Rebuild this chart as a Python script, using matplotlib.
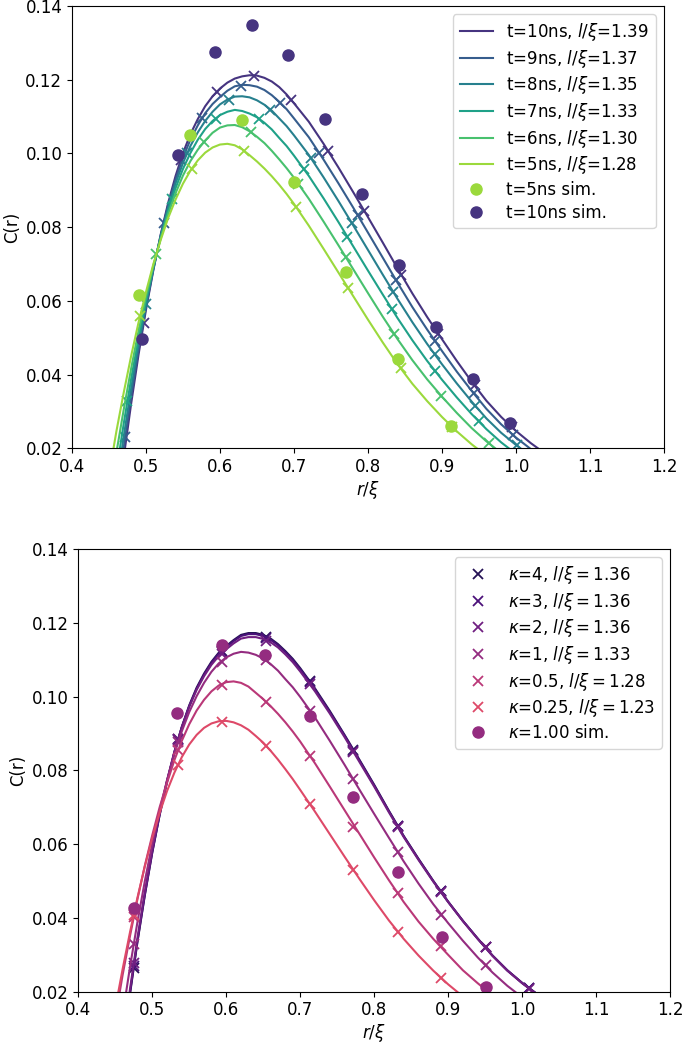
import numpy as np
import matplotlib
matplotlib.use("Agg")
import matplotlib.pyplot as plt

# ---------------- shared r/xi grid for fitted curves ----------------
r_grid = [0.45, 0.46, 0.47, 0.48, 0.49, 0.50, 0.51, 0.52, 0.53, 0.54, 0.55, 0.56,
          0.57, 0.58, 0.59, 0.60, 0.61, 0.62, 0.63, 0.64, 0.65, 0.66, 0.67, 0.68, 0.69, 0.70,
          0.72, 0.74, 0.76, 0.78, 0.80, 0.82, 0.84, 0.86, 0.88, 0.90, 0.92, 0.94, 0.96, 0.98,
          1.00, 1.02, 1.04, 1.06]

# ---------------- top panel: time series ----------------
time_labels = ["t=10ns, $l/\\xi$=1.39", "t=9ns, $l/\\xi$=1.37", "t=8ns, $l/\\xi$=1.35",
               "t=7ns, $l/\\xi$=1.33", "t=6ns, $l/\\xi$=1.30", "t=5ns, $l/\\xi$=1.28"]

fit_t10 = [-0.0140, 0.0022, 0.0177, 0.0322, 0.0455, 0.0576, 0.0684, 0.0781, 0.0866, 0.0939, 0.1001, 0.1052,
           0.1093, 0.1128, 0.1155, 0.1176, 0.1192, 0.1203, 0.1209, 0.1212, 0.1211, 0.1205, 0.1195, 0.1180, 0.1160, 0.1136,
           0.1086, 0.1026, 0.0962, 0.0895, 0.0827, 0.0758, 0.0688, 0.0620, 0.0556, 0.0496, 0.0437, 0.0381, 0.0329, 0.0285,
           0.0247, 0.0214, 0.0185, 0.0160]
fit_t9 = [-0.0100, 0.0056, 0.0203, 0.0341, 0.0468, 0.0583, 0.0686, 0.0779, 0.0860, 0.0929, 0.0989, 0.1037,
          0.1076, 0.1109, 0.1134, 0.1153, 0.1170, 0.1182, 0.1186, 0.1185, 0.1181, 0.1172, 0.1158, 0.1140, 0.1120, 0.1095,
          0.1044, 0.0983, 0.0919, 0.0853, 0.0785, 0.0717, 0.0649, 0.0583, 0.0522, 0.0464, 0.0408, 0.0356, 0.0307, 0.0265,
          0.0229, 0.0198, 0.0170, 0.0146]
fit_t8 = [-0.0054, 0.0094, 0.0233, 0.0363, 0.0483, 0.0591, 0.0689, 0.0776, 0.0853, 0.0919, 0.0974, 0.1020,
          0.1057, 0.1088, 0.1113, 0.1133, 0.1146, 0.1154, 0.1155, 0.1152, 0.1144, 0.1132, 0.1116, 0.1095, 0.1074, 0.1049,
          0.0996, 0.0935, 0.0871, 0.0805, 0.0738, 0.0671, 0.0605, 0.0542, 0.0483, 0.0428, 0.0376, 0.0327, 0.0281, 0.0242,
          0.0209, 0.0179, 0.0153, 0.0130]
fit_t7 = [-0.0001, 0.0138, 0.0268, 0.0389, 0.0500, 0.0601, 0.0692, 0.0773, 0.0845, 0.0906, 0.0958, 0.1001,
          0.1037, 0.1066, 0.1088, 0.1104, 0.1113, 0.1118, 0.1115, 0.1108, 0.1098, 0.1083, 0.1065, 0.1042, 0.1020, 0.0994,
          0.0939, 0.0878, 0.0814, 0.0748, 0.0682, 0.0617, 0.0553, 0.0493, 0.0437, 0.0386, 0.0338, 0.0293, 0.0252, 0.0216,
          0.0185, 0.0157, 0.0133, 0.0112]
fit_t6 = [0.0058, 0.0188, 0.0306, 0.0417, 0.0519, 0.0612, 0.0696, 0.0770, 0.0836, 0.0892, 0.0940, 0.0979,
          0.1010, 0.1035, 0.1056, 0.1070, 0.1076, 0.1077, 0.1071, 0.1060, 0.1045, 0.1028, 0.1007, 0.0984, 0.0960, 0.0934,
          0.0877, 0.0815, 0.0751, 0.0686, 0.0621, 0.0557, 0.0496, 0.0439, 0.0387, 0.0340, 0.0296, 0.0255, 0.0219, 0.0187,
          0.0158, 0.0133, 0.0111, 0.0091]
fit_t5 = [0.0128, 0.0246, 0.0352, 0.0451, 0.0542, 0.0624, 0.0700, 0.0766, 0.0825, 0.0875, 0.0918, 0.0953,
          0.0981, 0.1002, 0.1016, 0.1024, 0.1026, 0.1022, 0.1011, 0.0995, 0.0978, 0.0959, 0.0938, 0.0915, 0.0890, 0.0863,
          0.0804, 0.0741, 0.0677, 0.0613, 0.0549, 0.0487, 0.0428, 0.0375, 0.0328, 0.0285, 0.0246, 0.0211, 0.0180, 0.0152,
          0.0127, 0.0105, 0.0085, 0.0067]

# sampled points (crosses) on each time curve
cross_x_t10 = [0.497, 0.547, 0.596, 0.646, 0.696, 0.746, 0.795, 0.845, 0.895, 0.944, 0.994]
cross_y_t10 = [0.0540, 0.0982, 0.1166, 0.1210, 0.1145, 0.1007, 0.0844, 0.0671, 0.0511, 0.0371, 0.0257]
cross_x_t9 = [0.472, 0.524, 0.576, 0.629, 0.681, 0.734, 0.786, 0.838, 0.891, 0.943, 0.996]
cross_y_t9 = [0.0231, 0.0811, 0.1095, 0.1183, 0.1138, 0.1001, 0.0833, 0.0656, 0.0490, 0.0349, 0.0236]
cross_x_t8 = [0.500, 0.556, 0.612, 0.667, 0.723, 0.778, 0.834, 0.890, 0.945, 1.001]
cross_y_t8 = [0.0591, 0.1002, 0.1146, 0.1119, 0.0987, 0.0812, 0.0625, 0.0456, 0.0315, 0.0208]
cross_x_t7 = [0.475, 0.535, 0.594, 0.653, 0.713, 0.772, 0.832, 0.891, 0.950]
cross_y_t7 = [0.0329, 0.0876, 0.1093, 0.1092, 0.0958, 0.0774, 0.0579, 0.0409, 0.0273]
cross_x_t6 = [0.514, 0.578, 0.642, 0.706, 0.770, 0.835, 0.899, 0.963]
cross_y_t6 = [0.0726, 0.1032, 0.1058, 0.0917, 0.0719, 0.0511, 0.0342, 0.0214]
cross_x_t5 = [0.492, 0.562, 0.633, 0.703, 0.773, 0.844, 0.914]
cross_y_t5 = [0.0558, 0.0959, 0.1006, 0.0854, 0.0635, 0.0417, 0.0258]

# simulation points
sim_x_t5 = [0.490, 0.5595, 0.630, 0.7004, 0.7707, 0.841, 0.9117]
sim_y_t5 = [0.0616, 0.1051, 0.1091, 0.0922, 0.0678, 0.0442, 0.0260]
sim_x_t10 = [0.494, 0.5437, 0.5932, 0.6428, 0.6923, 0.7423, 0.7923, 0.8423, 0.8919, 0.9414, 0.992]
sim_y_t10 = [0.0497, 0.0996, 0.1274, 0.1349, 0.1267, 0.1094, 0.0891, 0.0697, 0.0530, 0.0387, 0.0269]

# ---------------- bottom panel: kappa series ----------------
kappa_labels = ["$\\kappa$=4, $l/\\xi = 1.36$", "$\\kappa$=3, $l/\\xi = 1.36$",
                "$\\kappa$=2, $l/\\xi = 1.36$", "$\\kappa$=1, $l/\\xi = 1.33$",
                "$\\kappa$=0.5, $l/\\xi = 1.28$", "$\\kappa$=0.25, $l/\\xi = 1.23$"]

fit_k4 = [-0.0110, 0.0045, 0.0195, 0.0335, 0.0462, 0.0577, 0.0679, 0.0770, 0.0850, 0.0918, 0.0976, 0.1024,
          0.1062, 0.1094, 0.1119, 0.1137, 0.1153, 0.1167, 0.1172, 0.1172, 0.1167, 0.1157, 0.1142, 0.1123, 0.1102, 0.1077,
          0.1022, 0.0961, 0.0896, 0.0829, 0.0761, 0.0690, 0.0622, 0.0560, 0.0500, 0.0444, 0.0392, 0.0344, 0.0298, 0.0258,
          0.0224, 0.0194, 0.0167, 0.0143]
fit_k3 = [-0.0105, 0.0050, 0.0199, 0.0338, 0.0464, 0.0578, 0.0680, 0.0770, 0.0849, 0.0917, 0.0974, 0.1021,
          0.1059, 0.1091, 0.1116, 0.1134, 0.1150, 0.1164, 0.1169, 0.1169, 0.1164, 0.1154, 0.1139, 0.1120, 0.1099, 0.1074,
          0.1019, 0.0958, 0.0894, 0.0827, 0.0759, 0.0689, 0.0621, 0.0559, 0.0500, 0.0444, 0.0392, 0.0344, 0.0298, 0.0258,
          0.0224, 0.0194, 0.0167, 0.0143]
fit_k2 = [-0.0095, 0.0060, 0.0208, 0.0346, 0.0471, 0.0584, 0.0684, 0.0773, 0.0851, 0.0917, 0.0972, 0.1018,
          0.1055, 0.1086, 0.1110, 0.1128, 0.1144, 0.1157, 0.1161, 0.1161, 0.1156, 0.1147, 0.1133, 0.1114, 0.1093, 0.1068,
          0.1014, 0.0954, 0.0890, 0.0823, 0.0756, 0.0686, 0.0619, 0.0557, 0.0498, 0.0443, 0.0391, 0.0343, 0.0297, 0.0257,
          0.0223, 0.0193, 0.0166, 0.0142]
fit_k1 = [-0.0001, 0.0138, 0.0268, 0.0389, 0.0500, 0.0601, 0.0692, 0.0773, 0.0845, 0.0906, 0.0958, 0.1001,
          0.1037, 0.1067, 0.1090, 0.1106, 0.1116, 0.1121, 0.1119, 0.1113, 0.1103, 0.1088, 0.1070, 0.1047, 0.1025, 0.0999,
          0.0943, 0.0880, 0.0815, 0.0748, 0.0682, 0.0617, 0.0553, 0.0493, 0.0437, 0.0386, 0.0338, 0.0293, 0.0252, 0.0216,
          0.0185, 0.0157, 0.0133, 0.0112]
fit_k05 = [0.0128, 0.0246, 0.0352, 0.0451, 0.0542, 0.0624, 0.0700, 0.0766, 0.0828, 0.0880, 0.0925, 0.0962,
           0.0991, 0.1014, 0.1030, 0.1039, 0.1041, 0.1037, 0.1027, 0.1010, 0.0993, 0.0974, 0.0953, 0.0930, 0.0905, 0.0878,
           0.0819, 0.0756, 0.0692, 0.0628, 0.0564, 0.0502, 0.0443, 0.0390, 0.0343, 0.0300, 0.0258, 0.0223, 0.0190, 0.0162,
           0.0137, 0.0115, 0.0095, 0.0077]
fit_k025 = [0.0155, 0.0262, 0.0362, 0.0455, 0.0540, 0.0617, 0.0685, 0.0744, 0.0794, 0.0836, 0.0870, 0.0896,
            0.0915, 0.0927, 0.0933, 0.0934, 0.0930, 0.0922, 0.0910, 0.0893, 0.0875, 0.0853, 0.0829, 0.0803, 0.0776, 0.0747,
            0.0688, 0.0627, 0.0566, 0.0506, 0.0448, 0.0393, 0.0343, 0.0298, 0.0257, 0.0220, 0.0187, 0.0158, 0.0132, 0.0110,
            0.0090, 0.0072, 0.0056, 0.0042]

kappa_x = [0.475, 0.535, 0.594, 0.654, 0.713, 0.772, 0.832, 0.891, 0.951, 1.010]
cross_k4 = [0.0265, 0.0884, 0.1124, 0.1161, 0.1041, 0.0856, 0.0649, 0.0472, 0.0321, 0.0209]
cross_k3 = [0.0269, 0.0883, 0.1121, 0.1158, 0.1038, 0.0853, 0.0648, 0.0472, 0.0321, 0.0209]
cross_k2 = [0.0277, 0.0884, 0.1115, 0.1151, 0.1033, 0.0850, 0.0645, 0.0471, 0.0320, 0.0208]
cross_k1 = [0.0329, 0.0876, 0.1094, 0.1098, 0.0962, 0.0776, 0.0578, 0.0409, 0.0271, 0.0171]
cross_k05 = [0.0402, 0.0854, 0.1032, 0.0986, 0.0840, 0.0647, 0.0467, 0.0324, 0.0206, 0.0126]
cross_k025 = [0.0409, 0.0815, 0.0932, 0.0866, 0.0708, 0.0530, 0.0363, 0.0238, 0.0145, 0.0081]

sim_x_k1 = [0.475, 0.534, 0.594, 0.653, 0.713, 0.772, 0.832, 0.892, 0.951]
sim_y_k1 = [0.0428, 0.0956, 0.1140, 0.1112, 0.0947, 0.0727, 0.0524, 0.0347, 0.0214]

x_ticks = [0.4, 0.5, 0.6, 0.7, 0.8, 0.9, 1.0, 1.1, 1.2]
y_ticks = [0.02, 0.04, 0.06, 0.08, 0.10, 0.12, 0.14]

# ---------------- figure ----------------
fig = plt.figure(figsize=(6.85, 10.43), dpi=100)
ax1 = fig.add_axes([0.1051, 0.5702, 0.8642, 0.4241])
ax2 = fig.add_axes([0.1143, 0.0492, 0.8638, 0.4245])

vcols = plt.cm.viridis(np.linspace(0.15, 0.85, 6))
fits_t = [fit_t10, fit_t9, fit_t8, fit_t7, fit_t6, fit_t5]
cx_t = [cross_x_t10, cross_x_t9, cross_x_t8, cross_x_t7, cross_x_t6, cross_x_t5]
cy_t = [cross_y_t10, cross_y_t9, cross_y_t8, cross_y_t7, cross_y_t6, cross_y_t5]
for fit, cx, cy, col, lab in zip(fits_t, cx_t, cy_t, vcols, time_labels):
    ax1.plot(r_grid, fit, color=col, lw=1.5, label=lab)
    ax1.plot(cx, cy, 'x', color=col, ms=7, mew=1.3)
ax1.plot(sim_x_t5, sim_y_t5, 'o', color=vcols[5], ms=8, ls='none', label="t=5ns sim.")
ax1.plot(sim_x_t10, sim_y_t10, 'o', color=vcols[0], ms=8, ls='none', label="t=10ns sim.")

mcols = plt.cm.magma(np.linspace(0.15, 0.6, 6))
fits_k = [fit_k4, fit_k3, fit_k2, fit_k1, fit_k05, fit_k025]
cr_k = [cross_k4, cross_k3, cross_k2, cross_k1, cross_k05, cross_k025]
for fit, cy, col, lab in zip(fits_k, cr_k, mcols, kappa_labels):
    ax2.plot(r_grid, fit, color=col, lw=1.5)
    ax2.plot(kappa_x, cy, 'x', color=col, ms=7, mew=1.3, ls='none', label=lab)
ax2.plot(sim_x_k1, sim_y_k1, 'o', color=mcols[3], ms=8, ls='none', label="$\\kappa$=1.00 sim.")

for ax in (ax1, ax2):
    ax.set_xlim(0.4, 1.2)
    ax.set_ylim(0.02, 0.14)
    ax.set_xticks(x_ticks)
    ax.set_yticks(y_ticks)
    ax.set_xlabel("$r/\\xi$", fontsize=12, labelpad=2)
    ax.set_ylabel("C(r)", fontsize=12, labelpad=3)
    ax.tick_params(labelsize=12)
    ax.legend(loc="upper right", fontsize=12, labelspacing=0.28)

fig.savefig("out.png", dpi=100)
